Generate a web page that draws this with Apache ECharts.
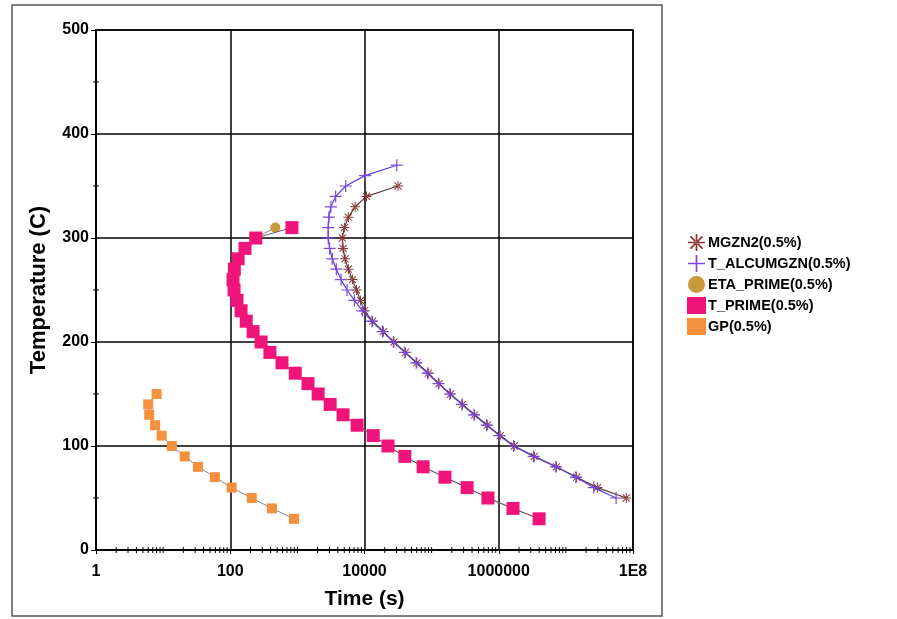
<!DOCTYPE html>
<html>
<head>
<meta charset="utf-8">
<script src="https://cdn.jsdelivr.net/npm/echarts@6/dist/echarts.min.js"></script>
<style>
  html, body { margin: 0; padding: 0; background: #fff; }
  #chart { width: 897px; height: 619px; }
</style>
</head>
<body>
<div id="chart"></div>
<script>
// temperatures (C) and times (s)
const tempMgzn2 = [350, 340, 330, 320, 310, 300, 290, 280, 270, 260, 250, 240, 230, 220, 210, 200, 190, 180, 170, 160, 150, 140, 130, 120, 110, 100, 90, 80, 70, 60, 50];
const timeMgzn2 = [31600, 10700, 7240, 5750, 5010, 4680, 4790, 5130, 5750, 6610, 7590, 8710, 10000, 13200, 19100, 27500, 40700, 60300, 89100, 129000, 191000, 288000, 437000, 676000, 1050000, 1700000, 3390000, 7240000, 14500000, 29500000, 79400000];

const tempAlcumgzn = [370, 360, 350, 340, 330, 320, 310, 300, 290, 280, 270, 260, 250, 240, 230, 220, 210, 200, 190, 180, 170, 160, 150, 140, 130, 120, 110, 100, 90, 80, 70, 60, 50];
const timeAlcumgzn = [30200, 10200, 5250, 3720, 3160, 2950, 2880, 2880, 3020, 3310, 3800, 4470, 5500, 7080, 9330, 12900, 18600, 26900, 39800, 58900, 87100, 126000, 186000, 282000, 427000, 661000, 1020000, 1660000, 3310000, 7080000, 14100000, 26000000, 56000000];

const tempEtaPrime = [310, 300, 290, 280, 270, 260, 250, 240, 230, 220, 210, 200, 190, 180, 170, 160, 150, 140, 130, 120, 110, 100, 90, 80, 70, 60, 50, 40, 30];
const timeEtaPrime = [470, 235, 163, 130, 114, 109, 113, 125, 144, 171, 216, 285, 385, 580, 920, 1420, 2020, 3050, 4750, 7700, 13400, 22200, 39500, 74000, 157000, 335000, 685000, 1620000, 3950000];

const tempTPrime = [310, 300, 290, 280, 270, 260, 250, 240, 230, 220, 210, 200, 190, 180, 170, 160, 150, 140, 130, 120, 110, 100, 90, 80, 70, 60, 50, 40, 30];
const timeTPrime = [830, 240, 166, 131, 115, 110, 114, 126, 145, 173, 219, 288, 390, 590, 930, 1440, 2040, 3080, 4790, 7760, 13500, 22400, 39900, 74700, 158000, 338000, 690000, 1630000, 3990000];

const tempGp = [150, 140, 130, 120, 110, 100, 90, 80, 70, 60, 50, 40, 30];
const timeGp = [8.0, 6.0, 6.2, 7.6, 9.5, 13.5, 21, 33, 59, 105, 209, 417, 890];

const seriesNames = ['MGZN2(0.5%)', 'T_ALCUMGZN(0.5%)', 'ETA_PRIME(0.5%)', 'T_PRIME(0.5%)', 'GP(0.5%)'];

// axis ticks: labelled decades (as exponents) and the minor log ticks
const xLabelExponents = [0, 2, 4, 6, 8];
const xMinorMantissas = [1, 2, 3, 4, 5, 6, 7, 8, 9];
const xDecades = [1, 10, 100, 1000, 10000, 100000, 1000000, 10000000];
const yMinorTicks = [50, 150, 250, 350, 450];

const FONT = '"Liberation Sans", Arial, sans-serif';

const asterisk = 'path://M-1,-10L1,-10L1,10L-1,10Z M-10,-1L10,-1L10,1L-10,1Z M-7.8,-6.4L6.4,7.8L7.8,6.4L-6.4,-7.8Z M6.4,-7.8L7.8,-6.4L-6.4,7.8L-7.8,6.4Z';
const plus = 'path://M-1,-10L1,-10L1,10L-1,10Z M-10,-1L10,-1L10,1L-10,1Z';

function pairs(xs, ys) {
  return ys.map((y, i) => [xs[i], y]);
}

const xMinorData = [];
xDecades.forEach(d => {
  xMinorMantissas.forEach(m => {
    const v = d * m;
    const e = Math.log10(v);
    if (xLabelExponents.indexOf(e) < 0) xMinorData.push([v, 0]);
  });
});

const chart = echarts.init(document.getElementById('chart'));

const options = {
  animation: false,
  backgroundColor: '#fff',
  graphic: [{
    type: 'rect',
    shape: { x: 12, y: 5, width: 650, height: 611 },
    style: { fill: 'none', stroke: '#555', lineWidth: 1.5 },
    silent: true
  }],
  grid: {
    left: 96,
    top: 30,
    right: 264,
    bottom: 69,
    show: true,
    borderColor: '#000',
    borderWidth: 1.5
  },
  legend: {
    data: [
      { name: seriesNames[0], icon: asterisk },
      { name: seriesNames[1], icon: plus },
      { name: seriesNames[2], icon: 'circle' },
      { name: seriesNames[3], icon: 'rect' },
      { name: seriesNames[4], icon: 'rect' }
    ],
    orient: 'vertical',
    left: 682,
    top: 229,
    itemGap: 4,
    itemWidth: 19,
    itemHeight: 17,
    textStyle: {
      fontFamily: FONT,
      fontWeight: 'bold',
      fontSize: 14.5,
      color: '#000',
      padding: [0, 0, 0, -3]
    }
  },
  xAxis: [
    {
      // data axis (log scale)
      type: 'log',
      logBase: 10,
      min: 1,
      max: 100000000,
      position: 'bottom',
      axisLine: { show: false },
      axisTick: { show: false },
      axisLabel: { show: false },
      splitLine: { show: false }
    },
    {
      // same span written as decade exponents, for the labelled grid
      type: 'value',
      min: 0,
      max: 8,
      interval: 2,
      position: 'bottom',
      name: 'Time (s)',
      nameLocation: 'middle',
      nameGap: 39,
      nameTextStyle: { fontFamily: FONT, fontWeight: 'bold', fontSize: 21, color: '#000' },
      axisLine: { show: true, onZero: false, lineStyle: { color: '#000', width: 2 } },
      axisTick: { show: true, length: 4, lineStyle: { color: '#000' } },
      axisLabel: {
        margin: 14,
        fontFamily: FONT,
        fontWeight: 'bold',
        fontSize: 16,
        color: '#000',
        formatter: v => (v >= 8 ? '1E8' : String(Math.pow(10, v)))
      },
      splitLine: { show: true, lineStyle: { color: '#000', width: 1.5 } }
    }
  ],
  yAxis: {
    type: 'value',
    min: 0,
    max: 500,
    interval: 100,
    name: 'Temperature (C)',
    nameLocation: 'middle',
    nameGap: 46,
    nameTextStyle: { fontFamily: FONT, fontWeight: 'bold', fontSize: 22, color: '#000' },
    axisLine: { show: true, lineStyle: { color: '#000', width: 2 } },
    axisTick: { show: true, length: 5, lineStyle: { color: '#000' } },
    axisLabel: {
      margin: 7,
      fontFamily: FONT,
      fontWeight: 'bold',
      fontSize: 16,
      color: '#000'
    },
    splitLine: { show: true, lineStyle: { color: '#000', width: 1.5 } }
  },
  series: [
    {
      name: seriesNames[0],
      type: 'line',
      xAxisIndex: 0,
      data: pairs(timeMgzn2, tempMgzn2),
      symbol: asterisk,
      symbolSize: 10,
      itemStyle: { color: '#8a3434' },
      lineStyle: { color: '#5e3a3a', width: 1.2 },
      z: 3
    },
    {
      name: seriesNames[1],
      type: 'line',
      xAxisIndex: 0,
      data: pairs(timeAlcumgzn, tempAlcumgzn),
      symbol: plus,
      symbolSize: 12,
      itemStyle: { color: '#7a48e0' },
      lineStyle: { color: '#5c3fd6', width: 1.2 },
      z: 4
    },
    {
      name: seriesNames[2],
      type: 'line',
      xAxisIndex: 0,
      data: pairs(timeEtaPrime, tempEtaPrime),
      symbol: 'circle',
      symbolSize: 10,
      itemStyle: { color: '#c8983a' },
      lineStyle: { color: '#8a7a50', width: 1 },
      z: 5
    },
    {
      name: seriesNames[3],
      type: 'line',
      xAxisIndex: 0,
      data: pairs(timeTPrime, tempTPrime),
      symbol: 'rect',
      symbolSize: 13,
      itemStyle: { color: '#f0147a' },
      lineStyle: { color: '#6a5a78', width: 1 },
      z: 6
    },
    {
      name: seriesNames[4],
      type: 'line',
      xAxisIndex: 0,
      data: pairs(timeGp, tempGp),
      symbol: 'rect',
      symbolSize: 10,
      itemStyle: { color: '#f5913c' },
      lineStyle: { color: '#8a84a0', width: 1 },
      z: 6
    },
    {
      name: 'xMinorTicks',
      type: 'custom',
      xAxisIndex: 0,
      silent: true,
      clip: false,
      data: xMinorData,
      renderItem: (params, api) => {
        const p = api.coord([api.value(0), api.value(1)]);
        return {
          type: 'line',
          shape: { x1: p[0], y1: p[1] - 3, x2: p[0], y2: p[1] + 3 },
          style: { stroke: '#000', lineWidth: 1 }
        };
      },
      z: 2
    },
    {
      name: 'yMinorTicks',
      type: 'custom',
      xAxisIndex: 0,
      silent: true,
      clip: false,
      data: yMinorTicks.map(v => [1, v]),
      renderItem: (params, api) => {
        const p = api.coord([api.value(0), api.value(1)]);
        return {
          type: 'line',
          shape: { x1: p[0] - 3, y1: p[1], x2: p[0] + 3, y2: p[1] },
          style: { stroke: '#000', lineWidth: 1 }
        };
      },
      z: 2
    }
  ]
};

chart.setOption(options);
</script>
</body>
</html>
